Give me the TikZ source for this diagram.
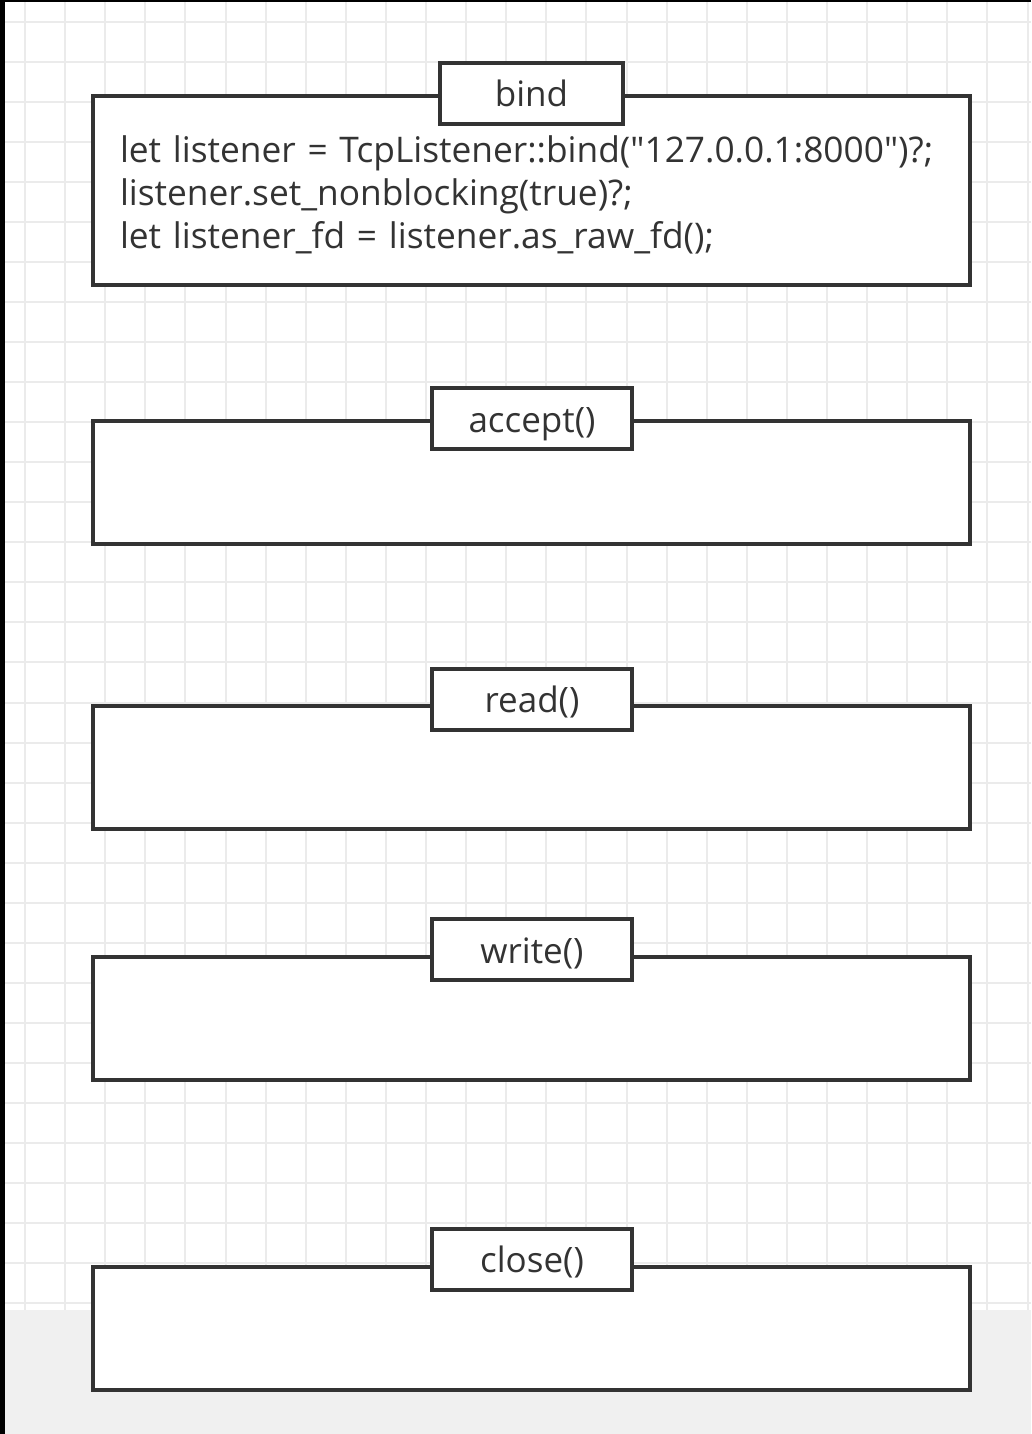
\documentclass[tikz,border=0pt]{standalone}
\usepackage{fontspec}
\setmainfont{Open Sans}
\usetikzlibrary{positioning}
\definecolor{gridgray}{HTML}{EBEBEB}
\definecolor{pagegray}{HTML}{F0F0F0}
\definecolor{edge}{HTML}{333333}

\begin{document}
\begin{tikzpicture}[x=1pt,y=-1pt,
                    mainbox/.style={draw=edge,line width=4pt,fill=white,minimum width=877pt,inner sep=0pt},
                    titlebox/.style={draw=edge,line width=4pt,fill=white,minimum width=200pt,minimum height=61pt,
                                     inner sep=0pt,text height=30pt,text depth=3pt,
                                     font=\fontsize{35}{40}\selectfont,text=edge},
                    codetext/.style={font=\fontsize{35.3}{43}\selectfont,text=edge,align=left,text width=835pt}]
  \useasboundingbox (0,0) rectangle (1031,1434);
  % page background
  \fill[white] (0,0) rectangle (1031,1434);
  \fill[pagegray] (5,1310) rectangle (1031,1434);
  \foreach \i in {0,...,25} \draw[gridgray,line width=2pt] (25+40.1*\i,2) -- (25+40.1*\i,1310);
  \foreach \j in {0,...,32} \draw[gridgray,line width=2pt] (5,22+40.03*\j) -- (1031,22+40.03*\j);
  \fill[black] (0,0) rectangle (5,1434);
  \fill[black] (0,0) rectangle (1031,2);
  % boxes
  \node[mainbox,minimum height=189pt] (bindbox) at (531.5,190.5) {};
  \node[codetext] (bindcode) at (537.5,194.5) {let listener = TcpListener::bind(\textquotedbl127.0.0.1:8000\textquotedbl)?;\\
    listener.set\_nonblocking(true)?;\\
    let listener\_fd = listener.as\_raw\_fd();};
  \node[titlebox,minimum width=183pt] (bind) at (531.5,93.5) {bind};
  \node[mainbox,minimum height=123pt] (acceptbox) at (531.5,482.5) {};
  \node[titlebox] (accept) at (532,418.5) {accept()};
  \node[mainbox,minimum height=123pt] (readbox) at (531.5,767.5) {};
  \node[titlebox] (read) at (532,699) {read()};
  \node[mainbox,minimum height=123pt] (writebox) at (531.5,1018.5) {};
  \node[titlebox] (write) at (532,949.5) {write()};
  \node[mainbox,minimum height=123pt] (closebox) at (531.5,1328.5) {};
  \node[titlebox] (close) at (532,1259) {close()};
\end{tikzpicture}
\end{document}
